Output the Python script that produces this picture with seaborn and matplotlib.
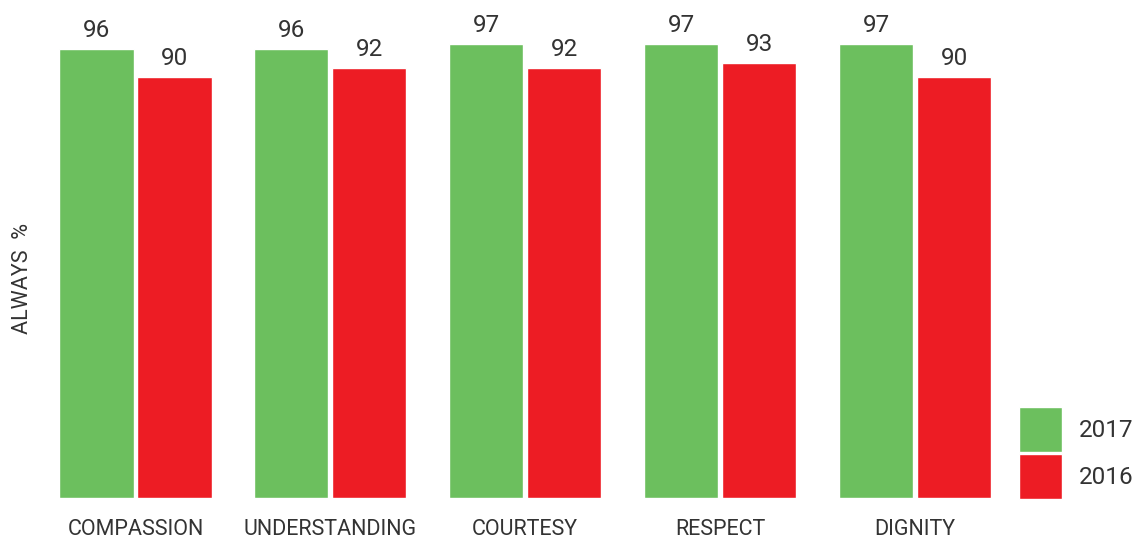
import matplotlib
matplotlib.use("Agg")
import matplotlib.pyplot as plt
import seaborn as sns
import pandas as pd

categories = ["COMPASSION", "UNDERSTANDING", "COURTESY", "RESPECT", "DIGNITY"]
values_2017 = [96, 96, 97, 97, 97]
values_2016 = [90, 92, 92, 93, 90]
years = ["2017", "2016"]
colors = {"2017": "#6cbf5e", "2016": "#ed1c24"}

df = pd.DataFrame({
    "category": categories * 2,
    "year": ["2017"] * len(categories) + ["2016"] * len(categories),
    "value": values_2017 + values_2016,
})

sns.set_theme(style="white")
plt.rcParams["font.family"] = ["Roboto", "DejaVu Sans"]
text_color = "#333333"

W, H = 1136, 541
fig = plt.figure(figsize=(W / 100, H / 100), dpi=100)
ax = fig.add_axes([40 / W, (H - 498) / H, (1000 - 40) / W, (498 - 10) / H])

sns.barplot(data=df, x="category", y="value", hue="year", hue_order=years,
            palette=colors, order=categories, width=0.8, gap=0.05,
            saturation=1, ax=ax)

ax.set_ylim(0, 104.3)
ax.set_xlim((40 - 135.5) / 194.9, (1000 - 135.5) / 194.9)

for container in ax.containers:
    ax.bar_label(container, fmt="%d", padding=5, fontsize=17.5, color=text_color)

ax.set_yticks([])
ax.set_xlabel("")
ax.set_ylabel("")
ax.tick_params(axis="x", length=0, pad=15, labelsize=15.5, labelcolor=text_color)
for s in ax.spines.values():
    s.set_visible(False)

fig.text(23 / W, 1 - 278 / H, "ALWAYS  %", rotation=90, ha="center", va="center",
         fontsize=15.5, color=text_color)

handles, labels = ax.get_legend_handles_labels()
ax.get_legend().remove()
leg = fig.legend(handles, labels, loc="upper left",
                 bbox_to_anchor=(1019 / W, 1 - 407 / H),
                 frameon=False, fontsize=17.5, handlelength=1.78, handleheight=2.45,
                 labelspacing=0.1, handletextpad=0.7, borderpad=0,
                 borderaxespad=0, labelcolor=text_color)

fig.savefig("out.png", dpi=100)
